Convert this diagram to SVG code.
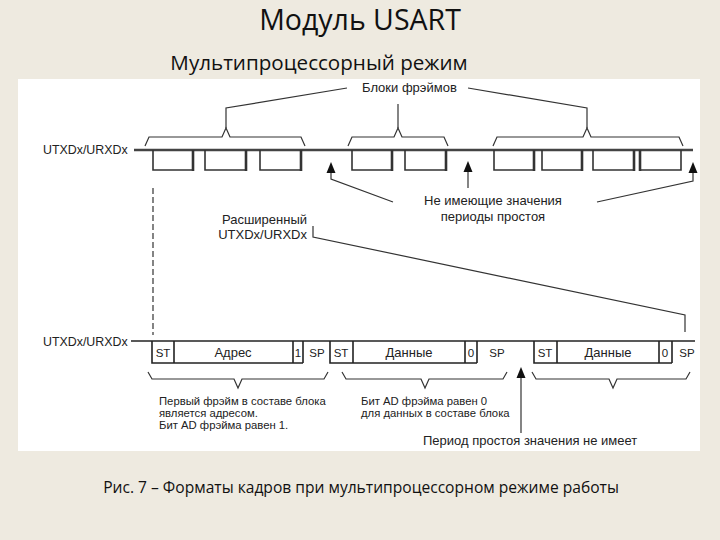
<svg xmlns="http://www.w3.org/2000/svg" width="720" height="540" viewBox="0 0 720 540">
<defs>
<style>
.t{font-family:"Liberation Sans",Arial,sans-serif;fill:#222}
.lbl{font-size:13px}
.sm{font-size:11.3px}
.cell{font-size:11.5px;text-anchor:middle}
.word{font-size:13px}
.ln{stroke:#333;stroke-width:1.2;fill:none}
.sig{stroke:#444;stroke-width:2.6;fill:none}
.box{stroke:#333;stroke-width:1.6;fill:none}
.thick{stroke:#333;stroke-width:2.6}
.wave{stroke:#222;stroke-width:1.6;fill:none}
.arr{fill:#111}
.head{font-family:"Open Sans","Liberation Sans",sans-serif;fill:#111}
</style>
</defs>
<rect x="0" y="0" width="720" height="540" fill="#EEEAE0"/>
<rect x="18" y="79" width="682" height="372" fill="#FFFFFF"/>
<text class="head" x="360" y="30" font-size="28.5" text-anchor="middle">Модуль USART</text>
<text class="head" x="319" y="70" font-size="20.6" text-anchor="middle">Мультипроцессорный режим</text>
<text class="head" x="361" y="493" font-size="15.6" text-anchor="middle">Рис. 7 – Форматы кадров при мультипроцессорном режиме работы</text>

<g id="labels">
<text class="t" x="43" y="154" font-size="12.4">UTXDx/URXDx</text>
<text class="t lbl" x="362" y="92">Блоки фрэймов</text>
<text class="t lbl" x="493" y="205" text-anchor="middle">Не имеющие значения</text>
<text class="t lbl" x="493" y="221" text-anchor="middle">периоды простоя</text>
<text class="t lbl" x="307" y="224" text-anchor="end">Расширенный</text>
<text class="t lbl" x="307" y="239" text-anchor="end">UTXDx/URXDx</text>
<text class="t" x="43" y="346" font-size="12.4">UTXDx/URXDx</text>
<text class="t sm" x="159" y="405">Первый фрэйм в составе блока</text>
<text class="t sm" x="159" y="417">является адресом.</text>
<text class="t sm" x="159" y="429">Бит AD фрэйма равен 1.</text>
<text class="t sm" x="361" y="405">Бит AD фрэйма равен 0</text>
<text class="t sm" x="361" y="417">для данных в составе блока</text>
<text class="t lbl" x="423" y="445">Период простоя значения не имеет</text>
</g>

<g id="top-signal">
<line class="sig" x1="134" y1="150" x2="693" y2="150"/>
</g>

<g id="top-frames">
<path class="box" d="M153,150 V170 H193"/><line class="thick" x1="193" y1="150" x2="193" y2="171"/>
<path class="box" d="M205,150 V170 H246"/><line class="thick" x1="246" y1="150" x2="246" y2="171"/>
<path class="box" d="M260,150 V170 H301"/><line class="thick" x1="301" y1="150" x2="301" y2="171"/>
<path class="box" d="M352,150 V170 H392"/><line class="thick" x1="392" y1="150" x2="392" y2="171"/>
<path class="box" d="M405,150 V170 H446"/><line class="thick" x1="446" y1="150" x2="446" y2="171"/>
<path class="box" d="M494,150 V170 H534"/><line class="thick" x1="534" y1="150" x2="534" y2="171"/>
<path class="box" d="M542,150 V170 H582"/><line class="thick" x1="582" y1="150" x2="582" y2="171"/>
<path class="box" d="M593,150 V170 H634"/><line class="thick" x1="634" y1="150" x2="634" y2="171"/>
<path class="box" d="M681,150 V170 H640"/><line class="thick" x1="640" y1="150" x2="640" y2="171"/>
</g>

<g id="top-braces">
<path class="ln" d="M145,146 L149,137 H222 L226,128 L230,137 H301 L305,146"/>
<path class="ln" d="M348,146 L352,137 H394 L398,128 L402,137 H444 L448,146"/>
<path class="ln" d="M493,146 L497,137 H583 L587,128 L591,137 H679 L683,146"/>
</g>

<g id="bottom-signal">
<line class="wave" x1="131" y1="341" x2="695" y2="341"/>
<path class="wave" d="M152,341 V363 H303 M174,341 V363 M293,341 V363 M303,341 V363 M330,341 V363 H477 M353,341 V363 M465,341 V363 M477,341 V363 M534,341 V363 H672 M557,341 V363 M659,341 V363 M672,341 V363"/>
<text class="t cell" x="163" y="357">ST</text>
<text class="t cell word" x="233" y="357">Адрес</text>
<text class="t cell" x="298" y="357">1</text>
<text class="t cell" x="317" y="357">SP</text>
<text class="t cell" x="341" y="357">ST</text>
<text class="t cell word" x="409" y="357">Данные</text>
<text class="t cell" x="471" y="357">0</text>
<text class="t cell" x="497" y="357">SP</text>
<text class="t cell" x="545" y="357">ST</text>
<text class="t cell word" x="608" y="357">Данные</text>
<text class="t cell" x="665" y="357">0</text>
<text class="t cell" x="687" y="357">SP</text>
</g>

<g id="bottom-braces">
<path class="ln" d="M148,372 L152,379 H234 L238,388 L242,379 H324 L328,372"/>
<path class="ln" d="M342,372 L346,379 H421 L425,388 L429,379 H503 L507,372"/>
<path class="ln" d="M532,372 L536,379 H609 L613,388 L617,379 H686 L690,372"/>
</g>

<g id="connectors">
<path class="ln" d="M226,128 V108 L347,88"/>
<path class="ln" d="M398,128 V104"/>
<path class="ln" d="M587,128 V108 L468,88"/>
<path class="ln" d="M331,172 V179 L393,202"/>
<polygon class="arr" points="331,162 326.5,173 335.5,173"/>
<path class="ln" d="M468,172 V188"/>
<polygon class="arr" points="468,161 463.5,172 472.5,172"/>
<path class="ln" d="M693,172 V181 L597,202"/>
<polygon class="arr" points="693,162 688.5,173 697.5,173"/>
<path class="ln" d="M313,226 V237 L685,315 V332"/>
<line class="ln" x1="153" y1="188" x2="153" y2="335" stroke-dasharray="6,3"/>
<path class="ln" d="M521,378 V433"/>
<polygon class="arr" points="521,367 516.5,378 525.5,378"/>
</g>
</svg>
